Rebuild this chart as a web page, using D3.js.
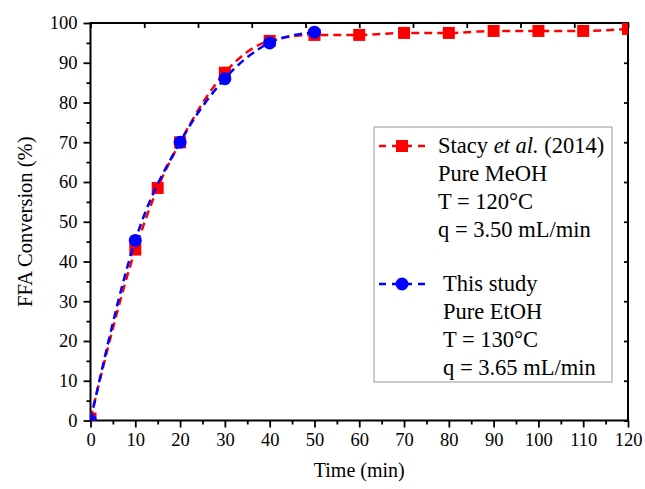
<!DOCTYPE html>
<html>
<head>
<meta charset="utf-8">
<script src="https://cdn.jsdelivr.net/npm/d3@7"></script>
<style>
  body { margin: 0; background: #fff; }
  text { font-family: "Liberation Serif", "Times New Roman", serif; fill: #000; }
</style>
</head>
<body>
<div id="chart"></div>
<script>
const w = 645, h = 489;
const margin = {left: 90.5, right: 17, top: 23, bottom: 68.5};

// data
const stacyTime = [0, 10, 15, 20, 30, 40, 50, 60, 70, 80, 90, 100, 110, 120];
const stacyConv = [0.5, 43, 58.5, 70, 87.5, 95.5, 97, 97, 97.5, 97.5, 98, 98, 98, 98.5];
const studyTime = [0, 10, 20, 30, 40, 50];
const studyConv = [0, 45.3, 70, 86, 95, 97.7];
const xTicks = d3.range(0, 121, 10);
const yTicks = d3.range(0, 101, 10);
const stacyLegend = ["Stacy <i>et al.</i> (2014)", "Pure MeOH", "T = 120°C", "q = 3.50 mL/min"];
const studyLegend = ["This study", "Pure EtOH", "T = 130°C", "q = 3.65 mL/min"];

const svg = d3.select('#chart').append('svg')
              .attr('width', w)
              .attr('height', h);

const x = d3.scaleLinear().domain([0, 120]).range([margin.left, w - margin.right]);
const y = d3.scaleLinear().domain([0, 100]).range([h - margin.bottom, margin.top]);

svg.append('defs').append('clipPath').attr('id', 'plotClip')
   .append('rect')
   .attr('x', x(0)).attr('y', y(100))
   .attr('width', x(120) - x(0)).attr('height', y(0) - y(100));

// bottom axis: major + minor ticks
const xAxis = d3.axisBottom(x).tickValues(xTicks).tickSize(7).tickPadding(5).tickFormat(d3.format('d'));
svg.append('g').attr('transform', `translate(0,${y(0)})`).call(xAxis);
svg.append('g').attr('transform', `translate(0,${y(0)})`)
   .call(d3.axisBottom(x).tickValues(d3.range(5, 120, 10)).tickSize(4).tickFormat(''));

// left axis
const yAxis = d3.axisLeft(y).tickValues(yTicks).tickSize(7).tickPadding(6).tickFormat(d3.format('d'));
svg.append('g').attr('transform', `translate(${x(0)},0)`).call(yAxis);
svg.append('g').attr('transform', `translate(${x(0)},0)`)
   .call(d3.axisLeft(y).tickValues(d3.range(5, 100, 10)).tickSize(4).tickFormat(''));

// top axis (10 equal divisions) and right axis, ticks pointing inward
const xTop = d3.scaleLinear().domain([0, 10]).range(x.range());
svg.append('g').attr('transform', `translate(0,${y(100)})`)
   .call(d3.axisBottom(xTop).ticks(10).tickSize(5).tickFormat(''));
svg.append('g').attr('transform', `translate(${x(120)},0)`)
   .call(d3.axisLeft(y).tickValues(yTicks).tickSize(4).tickFormat(''));

svg.selectAll('.domain').remove();
svg.selectAll('.tick line').attr('stroke', '#000').attr('stroke-width', 1.8);
svg.selectAll('.tick text').style('font-size', '18.5px').style('font-family', '"Liberation Serif", serif');

// frame
svg.append('rect')
   .attr('x', x(0)).attr('y', y(100))
   .attr('width', x(120) - x(0)).attr('height', y(0) - y(100))
   .attr('fill', 'none').attr('stroke', '#000').attr('stroke-width', 2);

const line = d3.line().curve(d3.curveMonotoneX).x(d => x(d[0])).y(d => y(d[1]));
const stacy = stacyTime.map((t, i) => [t, stacyConv[i]]);
const study = studyTime.map((t, i) => [t, studyConv[i]]);

const plot = svg.append('g').attr('clip-path', 'url(#plotClip)');

plot.append('path').datum(stacy).attr('d', line)
    .attr('fill', 'none').attr('stroke', '#ff0000').attr('stroke-width', 2.5)
    .attr('stroke-dasharray', '8,5');
plot.selectAll('rect.stacy').data(stacy).enter().append('rect')
    .attr('class', 'stacy')
    .attr('x', d => x(d[0]) - 6).attr('y', d => y(d[1]) - 6)
    .attr('width', 12).attr('height', 12).attr('fill', '#ff0000');

plot.append('path').datum(study).attr('d', line)
    .attr('fill', 'none').attr('stroke', '#0000ff').attr('stroke-width', 2.5)
    .attr('stroke-dasharray', '8,5');
plot.selectAll('circle.study').data(study).enter().append('circle')
    .attr('class', 'study')
    .attr('cx', d => x(d[0])).attr('cy', d => y(d[1]))
    .attr('r', 6.5).attr('fill', '#0000ff');

// axis titles
svg.append('text').attr('x', (x(0) + x(120)) / 2).attr('y', 477)
   .attr('text-anchor', 'middle').style('font-size', '20px').text('Time (min)');
svg.append('text').attr('transform', `translate(32,${(y(0) + y(100)) / 2}) rotate(-90)`)
   .attr('text-anchor', 'middle').style('font-size', '20.5px').text('FFA Conversion (%)');

// legend
const lg = svg.append('g');
lg.append('rect').attr('x', 374).attr('y', 127).attr('width', 238).attr('height', 255)
  .attr('fill', '#fff').attr('stroke', '#999').attr('stroke-width', 1);

const legendItems = [
  {lines: stacyLegend, color: '#ff0000', shape: 'square', y0: 153, tx: 438},
  {lines: studyLegend, color: '#0000ff', shape: 'circle', y0: 291, tx: 443}
];
legendItems.forEach(item => {
  const cy = item.y0 - 7;
  lg.append('line').attr('x1', 379).attr('x2', 425).attr('y1', cy).attr('y2', cy)
    .attr('stroke', item.color).attr('stroke-width', 2.5).attr('stroke-dasharray', '7,6');
  if (item.shape === 'square') {
    lg.append('rect').attr('x', 396).attr('y', cy - 6).attr('width', 12).attr('height', 12).attr('fill', item.color);
  } else {
    lg.append('circle').attr('cx', 402).attr('cy', cy).attr('r', 6.5).attr('fill', item.color);
  }
  item.lines.forEach((t, i) => {
    lg.append('text').attr('x', item.tx)
      .attr('y', item.y0 + i * 28).style('font-size', '22.5px')
      .html(t.replace(/<i>(.*?)<\/i>/, '<tspan font-style="italic">$1</tspan>'));
  });
});
</script>
</body>
</html>
